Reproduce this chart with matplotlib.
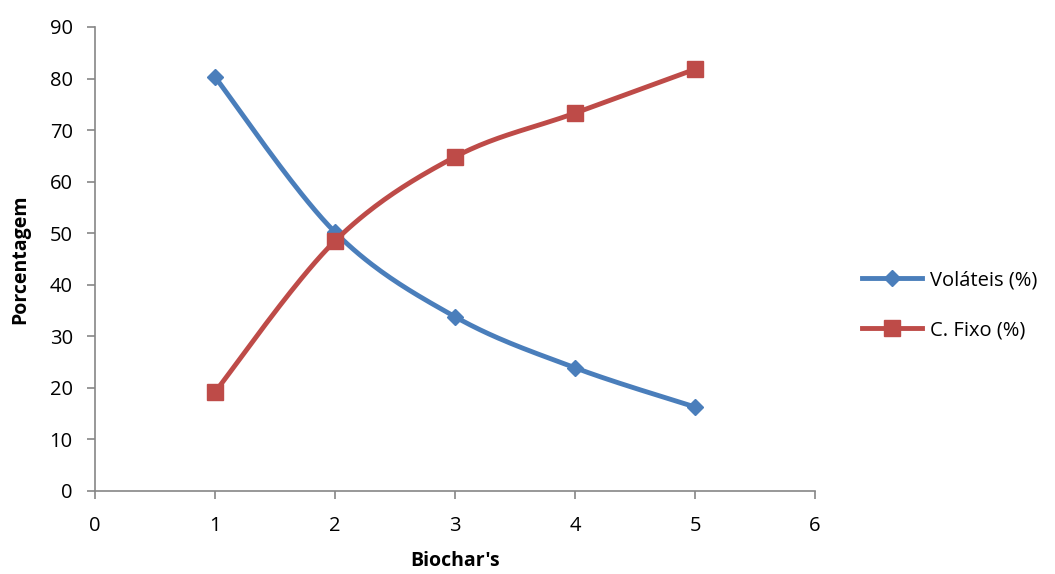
import numpy as np
import matplotlib.pyplot as plt

biochar = [1, 2, 3, 4, 5]
volateis = [80.3, 50.2, 33.8, 23.9, 16.3]
c_fixo = [19.2, 48.5, 64.8, 73.3, 81.8]

blue = '#4A7EBB'
red = '#BE4B48'
grey = '#868686'


def smooth(x, y, n=40):
    # Bezier smoothing like Excel's "smoothed line"
    p = np.column_stack([x, y]).astype(float)
    pts = [p[0]]
    for i in range(len(p) - 1):
        p0 = p[i - 1] if i > 0 else p[i]
        p1, p2 = p[i], p[i + 1]
        p3 = p[i + 2] if i + 2 < len(p) else p[i + 1]
        c1 = p1 + (p2 - p0) / 6.
        c2 = p2 - (p3 - p1) / 6.
        t = np.linspace(0, 1, n)[1:, None]
        seg = ((1 - t) ** 3 * p1 + 3 * (1 - t) ** 2 * t * c1
               + 3 * (1 - t) * t ** 2 * c2 + t ** 3 * p2)
        pts.extend(seg)
    pts = np.array(pts)
    return pts[:, 0], pts[:, 1]


plt.rcParams['font.family'] = ['Open Sans', 'DejaVu Sans']
fig = plt.figure(figsize=(10.55, 5.74), dpi=100)
ax = fig.add_axes([95 / 1055, 83 / 574, 720 / 1055, 464 / 574])

for y, c, m, ms, lab in [(volateis, blue, 'D', 8, 'Voláteis (%)'),
                         (c_fixo, red, 's', 11, 'C. Fixo (%)')]:
    sx, sy = smooth(biochar, y)
    ax.plot(sx, sy, color=c, lw=3.5, solid_capstyle='round')
    ax.plot(biochar, y, ls='none', marker=m, ms=ms, color=c)
    ax.plot([], [], color=c, lw=3.5, marker=m, ms=ms, label=lab)

ax.set_xlim(0, 6)
ax.set_ylim(0, 90)
ax.set_xticks(range(0, 7))
ax.set_yticks(range(0, 91, 10))
for s in ['top', 'right']:
    ax.spines[s].set_visible(False)
for s in ['left', 'bottom']:
    ax.spines[s].set_color(grey)
    ax.spines[s].set_linewidth(1.2)
ax.tick_params(colors=grey, labelcolor='black', labelsize=14.5,
               length=6, width=1.2, direction='out')
ax.tick_params(axis='x', pad=12)
ax.tick_params(axis='y', pad=10)
ax.set_xlabel("Biochar's", fontsize=14, fontweight='bold', labelpad=11)
ax.set_ylabel('Porcentagem', fontsize=14, fontweight='bold', labelpad=14)

ax.legend(loc='center left', bbox_to_anchor=(1.04, 0.40), frameon=False,
          fontsize=14.5, handlelength=3, labelspacing=1.5, handletextpad=0.4)

fig.savefig('out.png', dpi=100)
